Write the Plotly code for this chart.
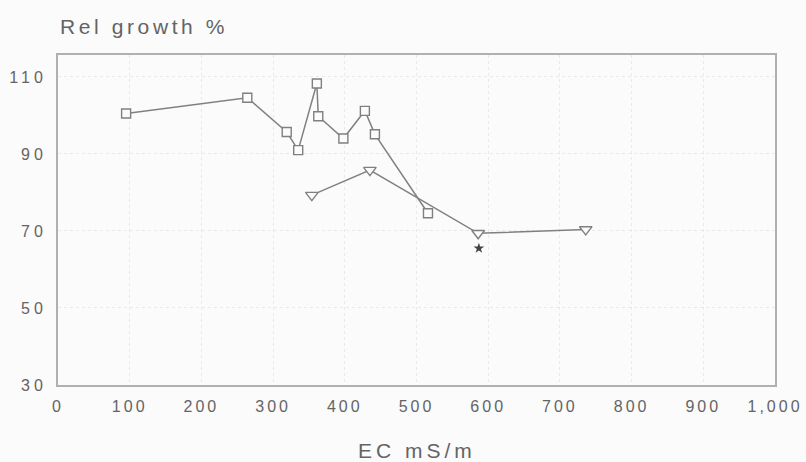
import plotly.graph_objects as go

# Relative growth (%) versus electrical conductivity (mS/m)
ec_square = [95, 264, 319, 335, 361, 363, 398, 428, 442, 516]
growth_square = [100.5, 104.6, 95.7, 91, 108.3, 99.8, 94, 101.2, 95.1, 74.6]

ec_triangle = [354, 435, 586, 736]
growth_triangle = [79.3, 85.8, 69.4, 70.4]

ec_star = [587]
growth_star = [65.5]

x_tickvals = [0, 100, 200, 300, 400, 500, 600, 700, 800, 900, 1000]
x_ticklabels = ["0", "100", "200", "300", "400", "500", "600", "700", "800", "900", "1,000"]
y_tickvals = [30, 50, 70, 90, 110]
y_ticklabels = ["30", "50", "70", "90", "110"]

TEXT = "#646464"
LINE = "#808080"
FONT = "Liberation Sans, Arial, sans-serif"


def spaced(s, px):
    return f'<span style="letter-spacing:{px}px">{s}</span>'


fig = go.Figure()

fig.add_trace(go.Scatter(
    x=ec_square, y=growth_square, mode="lines+markers",
    line=dict(color=LINE, width=1.5),
    marker=dict(symbol="square", size=9, color="#fbfbfb",
                line=dict(color=LINE, width=1.4)),
    showlegend=False,
))

fig.add_trace(go.Scatter(
    x=ec_triangle, y=growth_triangle, mode="lines+markers",
    line=dict(color=LINE, width=1.5),
    marker=dict(symbol="triangle-down", size=11, color="#fbfbfb",
                line=dict(color=LINE, width=1.4)),
    showlegend=False,
))

fig.add_trace(go.Scatter(
    x=ec_star, y=growth_star, mode="markers",
    marker=dict(symbol="star", size=8, color="#444444"),
    showlegend=False,
))

fig.update_layout(
    width=806, height=462,
    margin=dict(l=58, r=31, t=55, b=77, autoexpand=False),
    paper_bgcolor="#fbfbfb", plot_bgcolor="#fbfbfb",
    font=dict(family=FONT, size=16, color=TEXT),
    xaxis=dict(
        range=[0, 1000],
        tickvals=x_tickvals,
        ticktext=[spaced(t, 3) for t in x_ticklabels],
        ticklabelstandoff=6,
        showline=True, linecolor="#b0b0b0", linewidth=2, mirror=True,
        showgrid=True, gridcolor="#e9e9e9", griddash="dot", gridwidth=1,
        zeroline=False, ticks="",
    ),
    yaxis=dict(
        range=[30, 115.7],
        tickvals=y_tickvals,
        ticktext=[spaced(t, 4) for t in y_ticklabels],
        ticklabelstandoff=6,
        showline=True, linecolor="#b0b0b0", linewidth=2, mirror=True,
        showgrid=True, gridcolor="#e9e9e9", griddash="dot", gridwidth=1,
        zeroline=False, ticks="",
    ),
    annotations=[
        dict(text=spaced("Rel growth %", 3.6), xref="paper", yref="paper",
             x=0, y=1 + (55 - 27) / 329.5, xanchor="left", yanchor="middle",
             showarrow=False, font=dict(size=21, color=TEXT)),
        dict(text=spaced("EC mS/m", 4), xref="paper", yref="paper",
             x=0.5, y=-(450 - 384.5) / 329.5, xanchor="center", yanchor="middle",
             showarrow=False, font=dict(size=21, color=TEXT)),
    ],
)

fig.write_html("out.html")
